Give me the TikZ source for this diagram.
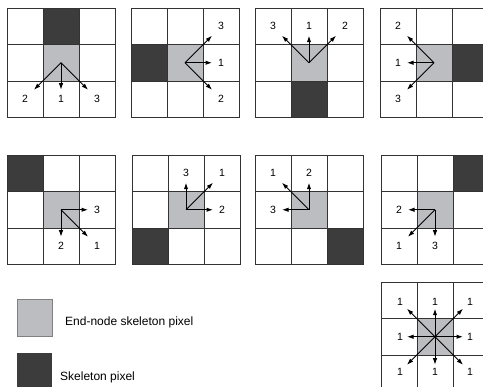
\documentclass[tikz,border=0pt]{standalone}
\usepackage{fontspec}
\setmainfont{Liberation Sans}
\usetikzlibrary{arrows.meta}
\definecolor{endgrey}{HTML}{BCBDC1}
\definecolor{skelgrey}{HTML}{3C3C3C}
\definecolor{gridgrey}{HTML}{333333}
\tikzset{
  gridline/.style={draw=gridgrey, line width=0.9pt},
  endpx/.style={fill=endgrey},
  skelpx/.style={fill=skelgrey},
  ray/.style={line width=1pt, draw=black, -{Latex[length=6.5pt,width=4.5pt]}},
  lab/.style={font=\fontsize{10.5}{12}\selectfont, inner sep=0pt},
  legtext/.style={font=\fontsize{12}{14}\selectfont, inner sep=0pt, anchor=west},
}
% #1 name prefix, #2/#3 top-left corner, #4/#5 column/row of the skeleton pixel,
% #6 list of dx/dy/label for the search directions
\newcommand\pixgrid[6]{%
  \begin{scope}[shift={(#2,#3)}]
    \fill[endpx] (36,36.5) rectangle (72,73);
    \fill[skelpx] ({#4*36},{#5*36.5}) rectangle ++(36,36.5);
    \foreach \i in {1,2}{
      \draw[gridline] ({\i*36},0) -- ({\i*36},109.5);
      \draw[gridline] (0,{\i*36.5}) -- (108,{\i*36.5});}
    \draw[gridline] (0,0) rectangle (108,109.5);
    \coordinate (#1c) at (54,54.75);
    \foreach \dx/\dy/\lab [count=\k] in {#6}{
      \node[lab] (#1l\k) at ({54+36*\dx},{54.75+36.5*\dy}) {\lab};
      \coordinate (#1t\k) at ({54+27*\dx},{54.75+27*\dy});
      \draw[ray] (#1c) -- (#1t\k);
    }
  \end{scope}}

\begin{document}
\begin{tikzpicture}[x=1pt,y=-1pt]
  \useasboundingbox (0,0) rectangle (483,387);
  \fill[white] (0,0) rectangle (483,387);

  % first row
  \pixgrid{ga}{7}{8}{1}{0}{0/1/1,-1/1/2,1/1/3}
  \pixgrid{gb}{131}{8}{0}{1}{1/0/1,1/1/2,1/-1/3}
  \pixgrid{gc}{255}{8}{1}{2}{0/-1/1,1/-1/2,-1/-1/3}
  \pixgrid{gd}{380}{8}{2}{1}{-1/0/1,-1/-1/2,-1/1/3}

  % second row
  \pixgrid{ge}{7}{155}{0}{0}{1/1/1,0/1/2,1/0/3}
  \pixgrid{gf}{132}{155}{0}{2}{1/-1/1,1/0/2,0/-1/3}
  \pixgrid{gg}{255}{155}{2}{2}{-1/-1/1,0/-1/2,-1/0/3}
  \pixgrid{gh}{381}{155}{2}{0}{-1/1/1,-1/0/2,0/1/3}

  % all eight directions from an isolated end pixel
  \begin{scope}[shift={(381,282)}]
    \fill[endpx] (36,36.5) rectangle (72,73);
    \foreach \i in {1,2}{
      \draw[gridline] ({\i*36},0) -- ({\i*36},109.5);
      \draw[gridline] (0,{\i*36.5}) -- (108,{\i*36.5});}
    \draw[gridline] (0,0) rectangle (108,109.5);
    \coordinate (gic) at (54,54.75);
    \foreach \dx/\dy [count=\k] in {-1/-1,0/-1,1/-1,-1/0,1/0,-1/1,0/1,1/1}{
      \node[lab] (gil\k) at ({54+35*\dx},{54.75+35*\dy}) {1};
      \coordinate (git\k) at ({54+28*\dx},{54.75+28*\dy});
      \draw[ray] (gic) -- (git\k);
    }
  \end{scope}

  % legend
  \node[endpx, draw=gray, line width=0.6pt, minimum width=35pt, minimum height=37pt,
        inner sep=0pt] (legend1) at (34.5,317.5) {};
  \node[skelpx, minimum width=35pt, minimum height=37pt, inner sep=0pt]
        (legend2) at (34.5,371.5) {};
  \node[legtext] (legtext1) at (65,322) {End-node skeleton pixel};
  \node[legtext] (legtext2) at (60,377) {Skeleton pixel};
\end{tikzpicture}
\end{document}
